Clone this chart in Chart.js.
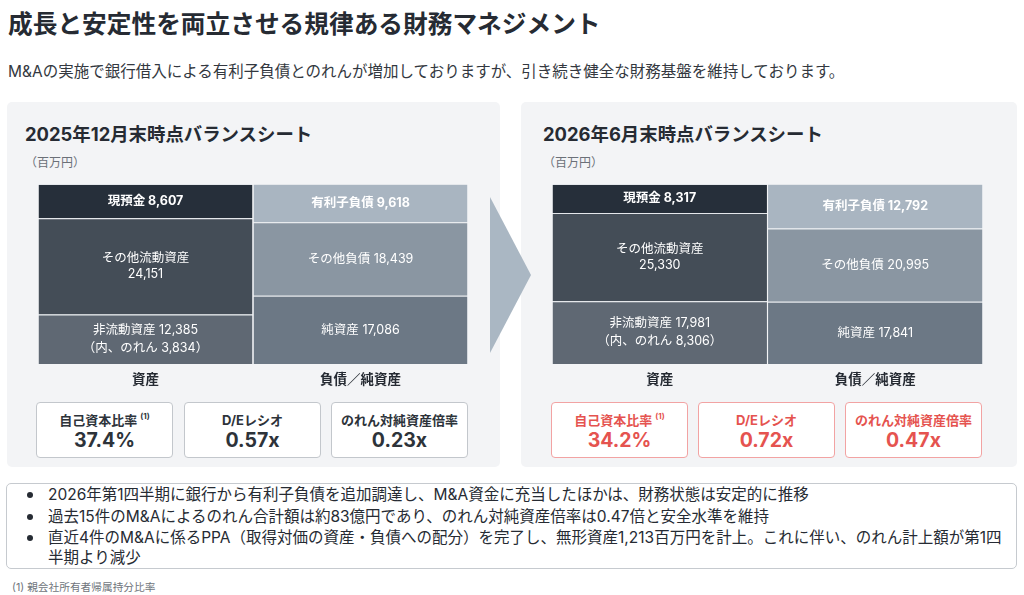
<!DOCTYPE html>
<html lang="ja">
<head>
<meta charset="utf-8">
<script src="https://cdn.jsdelivr.net/npm/chart.js@4.4.1/dist/chart.umd.min.js"></script>
<style>
  html, body { margin:0; padding:0; background:#ffffff; }
  body { width:1024px; height:595px; position:relative; overflow:hidden;
         font-family:"Inter","Noto Sans CJK JP",sans-serif; color:#262b33; }
  .abs { position:absolute; }
  #title { left:8px; top:9px; font-size:24.7px; line-height:30px; font-weight:700; white-space:nowrap; color:#262b33; }
  #subtitle { left:8px; top:62px; font-size:15.5px; line-height:20px; white-space:nowrap; color:#333840; }
  .panel { background:#f3f4f6; border-radius:5px; top:102px; height:365px; }
  .ptitle { font-size:18.4px; line-height:24px; font-weight:700; white-space:nowrap; color:#262b33; top:122px; }
  .unit { font-size:12px; line-height:16px; color:#6b7078; top:155px; white-space:nowrap; }
  .kpi { top:402px; height:56px; background:#ffffff; border:1px solid #c3c7cc; border-radius:4px;
         box-sizing:border-box; text-align:center; }
  .kpi.red { border-color:#f2a3a3; }
  .kpi .lab { position:absolute; left:0; right:0; top:9px; font-size:13px; line-height:16px; font-weight:700; color:#2d333a; white-space:nowrap; }
  .kpi .val { position:absolute; left:0; right:0; top:25px; font-size:19.5px; line-height:24px; font-weight:700; color:#2d333a; }
  .kpi.red .lab, .kpi.red .val { color:#e5534f; }
  .kpi sup { font-size:8px; line-height:0; vertical-align:6px; margin-left:3px; }
  #arrow { left:490px; top:197px; width:41px; height:156px; background:#aab7c3;
           clip-path:polygon(0 0, 100% 50%, 0 100%); }
  #notes { left:6px; top:483px; width:1011px; height:86px; border:1px solid #c6cacf; border-radius:5px; box-sizing:border-box; }
  .note { position:absolute; left:41px; font-size:15.5px; line-height:20px; white-space:nowrap; color:#262b33; }
  .dot { position:absolute; left:20px; width:6px; height:6px; border-radius:50%; background:#262b33; }
  #foot { left:12px; top:581px; font-size:10.7px; line-height:14px; color:#70757c; white-space:nowrap; }
</style>
</head>
<body>
<div id="title" class="abs">成長と安定性を両立させる規律ある財務マネジメント</div>
<div id="subtitle" class="abs">M&amp;Aの実施で銀行借入による有利子負債とのれんが増加しておりますが、引き続き健全な財務基盤を維持しております。</div>

<div class="abs panel" style="left:7px;width:493px;"></div>
<div class="abs panel" style="left:521px;width:496px;"></div>

<div class="abs ptitle" style="left:25px;">2025年12月末時点バランスシート</div>
<div class="abs unit" style="left:25px;">（百万円）</div>
<div class="abs ptitle" style="left:543px;">2026年6月末時点バランスシート</div>
<div class="abs unit" style="left:543px;">（百万円）</div>

<canvas id="bs1" class="abs" style="left:38px;top:184px;width:430px;height:212px;" width="430" height="212"></canvas>
<canvas id="bs2" class="abs" style="left:552px;top:184px;width:431px;height:212px;" width="431" height="212"></canvas>

<div id="arrow" class="abs"></div>

<div id="kpis"></div>

<div id="notes" class="abs">
  <span class="dot" style="top:8px;"></span><div class="note" style="top:1px;">2026年第1四半期に銀行から有利子負債を追加調達し、M&amp;A資金に充当したほかは、財務状態は安定的に推移</div>
  <span class="dot" style="top:30px;"></span><div class="note" style="top:23px;">過去15件のM&amp;Aによるのれん合計額は約83億円であり、のれん対純資産倍率は0.47倍と安全水準を維持</div>
  <span class="dot" style="top:51px;"></span><div class="note" style="top:44px;">直近4件のM&amp;Aに係るPPA（取得対価の資産・負債への配分）を完了し、無形資産1,213百万円を計上。これに伴い、のれん計上額が第1四</div>
  <div class="note" style="top:64px;">半期より減少</div>
</div>
<div id="foot" class="abs">(1) 親会社所有者帰属持分比率</div>

<script>
// ---- data (百万円) ----
const categories = ['資産', '負債／純資産'];
const topNames = ['現預金', '有利子負債'];
const midNames = ['その他流動資産', 'その他負債'];
const bottomNames = ['非流動資産', '純資産'];

const top2025 = [8607, 9618];
const mid2025 = [24151, 18439];
const bottom2025 = [12385, 17086];
const goodwill2025 = 3834;

const top2026 = [8317, 12792];
const mid2026 = [25330, 20995];
const bottom2026 = [17981, 17841];
const goodwill2026 = 8306;

const kpiLabels = ['自己資本比率', 'D/Eレシオ', 'のれん対純資産倍率'];
const kpi2025 = ['37.4%', '0.57x', '0.23x'];
const kpi2026 = ['34.2%', '0.72x', '0.47x'];

// ---- styles ----
const FONT = "Inter,'Noto Sans CJK JP',sans-serif";
const topColors = ['#262f3a', '#a9b5c1'];
const midColors = ['#444d57', '#8a96a2'];
const bottomColors = ['#5f6873', '#6c7885'];
const fmt = v => v.toLocaleString('en-US');

function segLabelPlugin() {
  return {
    id: 'segLabels',
    afterDatasetsDraw(chart) {
      const ctx = chart.ctx;
      ctx.save();
      ctx.textAlign = 'center';
      ctx.textBaseline = 'middle';
      ctx.fillStyle = '#ffffff';
      chart.data.datasets.forEach((ds, di) => {
        const meta = chart.getDatasetMeta(di);
        meta.data.forEach((bar, i) => {
          const lines = ds.segLines[i];
          const cx = bar.x;
          const cy = (bar.y + bar.base) / 2;
          ctx.font = (ds.segBold ? '700 ' : '400 ') + '12.5px ' + FONT;
          const lh = ds.segLineHeight;
          const start = cy - (lines.length - 1) * lh / 2;
          lines.forEach((t, k) => ctx.fillText(t, cx, start + k * lh));
        });
      });
      ctx.restore();
    }
  };
}

function makeBS(id, top, mid, bottom, goodwill) {
  const total = top[0] + mid[0] + bottom[0];
  const common = {
    borderColor: '#e4e7eb',
    borderWidth: { top: 1, right: 0, bottom: 0, left: 0 },
    borderSkipped: false,
    barPercentage: 0.995,
    categoryPercentage: 1.0
  };
  new Chart(document.getElementById(id), {
    type: 'bar',
    data: {
      labels: categories,
      datasets: [
        Object.assign({
          label: 'bottom', data: bottom, backgroundColor: bottomColors,
          segLines: [
            [bottomNames[0] + ' ' + fmt(bottom[0]), '（内、のれん ' + fmt(goodwill) + '）'],
            [bottomNames[1] + ' ' + fmt(bottom[1])]
          ], segBold: false, segLineHeight: 18
        }, common),
        Object.assign({
          label: 'mid', data: mid, backgroundColor: midColors,
          segLines: [
            [midNames[0], fmt(mid[0])],
            [midNames[1] + ' ' + fmt(mid[1])]
          ], segBold: false, segLineHeight: 16
        }, common),
        Object.assign({
          label: 'top', data: top, backgroundColor: topColors,
          segLines: [
            [topNames[0] + ' ' + fmt(top[0])],
            [topNames[1] + ' ' + fmt(top[1])]
          ], segBold: true, segLineHeight: 16
        }, common)
      ]
    },
    options: {
      responsive: false,
      animation: false,
      layout: { padding: 0 },
      plugins: { legend: { display: false }, tooltip: { enabled: false } },
      scales: {
        x: {
          stacked: true,
          grid: { display: false, drawTicks: false },
          border: { display: false },
          ticks: { color: '#262b33', padding: 8, font: { family: FONT, size: 13.5, weight: '700' } },
          afterFit: s => { s.height = 32; }
        },
        y: { stacked: true, display: false, min: 0, max: total }
      }
    },
    plugins: [segLabelPlugin()]
  });
}

makeBS('bs1', top2025, mid2025, bottom2025, goodwill2025);
makeBS('bs2', top2026, mid2026, bottom2026, goodwill2026);

// KPI boxes
const kpiHost = document.getElementById('kpis');
const kpiLeft1 = [36, 184, 331];
const kpiLeft2 = [551, 698, 845];
function addKpis(lefts, vals, red) {
  lefts.forEach((x, i) => {
    const d = document.createElement('div');
    d.className = 'abs kpi' + (red ? ' red' : '');
    d.style.left = x + 'px';
    d.style.width = '137px';
    const lab = document.createElement('div');
    lab.className = 'lab';
    lab.textContent = kpiLabels[i];
    if (i === 0) { const s = document.createElement('sup'); s.textContent = '(1)'; lab.appendChild(s); }
    const val = document.createElement('div');
    val.className = 'val';
    val.textContent = vals[i];
    d.appendChild(lab); d.appendChild(val);
    kpiHost.appendChild(d);
  });
}
addKpis(kpiLeft1, kpi2025, false);
addKpis(kpiLeft2, kpi2026, true);
</script>
</body>
</html>
